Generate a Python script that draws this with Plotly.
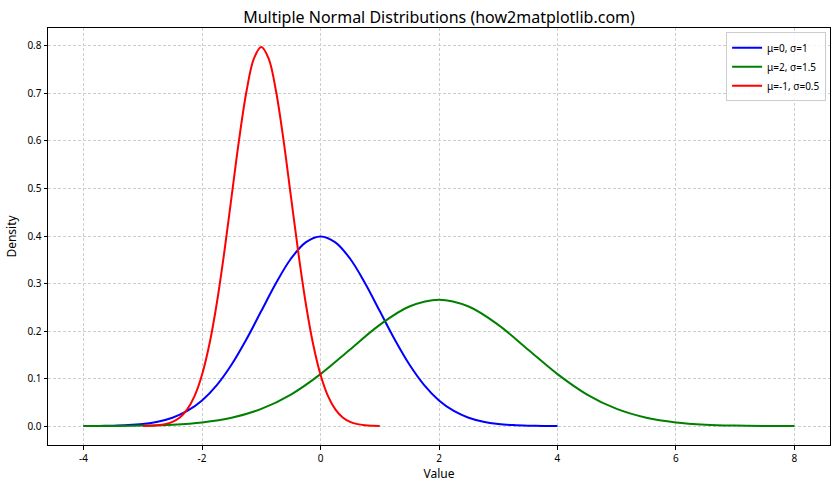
import plotly.graph_objects as go

x_blue = [-4 + 0.25 * i for i in range(33)]
y_blue_half = [0.39894, 0.38667, 0.35207, 0.30114, 0.24197, 0.18265, 0.12952, 0.08628,
               0.05399, 0.03174, 0.01753, 0.00909, 0.00443, 0.00203, 0.00087, 0.00035, 0.00013]
y_blue = y_blue_half[::-1] + y_blue_half[1:]

x_green = [-4 + 0.5 * i for i in range(25)]
y_green_half = [0.26596, 0.25159, 0.21297, 0.16131, 0.10934, 0.06632, 0.03599, 0.01748,
                0.00760, 0.002955, 0.001028, 0.00032, 0.0000892]
y_green = y_green_half[::-1] + y_green_half[1:]

x_red = [-3 + 0.125 * i for i in range(33)]
y_red_half = [0.79788, 0.77334, 0.70413, 0.60228, 0.48394, 0.36530, 0.25904, 0.17256,
              0.10798, 0.06348, 0.03506, 0.01818, 0.00886, 0.00406, 0.00174, 0.00070, 0.00027]
y_red = y_red_half[::-1] + y_red_half[1:]

series = [
    ("μ=0, σ=1", x_blue, y_blue, "blue"),
    ("μ=2, σ=1.5", x_green, y_green, "green"),
    ("μ=-1, σ=0.5", x_red, y_red, "red"),
]

x_ticks = [-4, -2, 0, 2, 4, 6, 8]
y_ticks = [0.0, 0.1, 0.2, 0.3, 0.4, 0.5, 0.6, 0.7, 0.8]

fig = go.Figure()
for name, xs, ys, color in series:
    fig.add_trace(go.Scatter(x=xs, y=ys, mode="lines", name=name,
                             line=dict(color=color, width=2, shape="spline", smoothing=1.0)))

font_family = "Noto Sans, Open Sans, sans-serif"
axis_common = dict(
    showline=True, linecolor="black", linewidth=1, mirror=True,
    ticks="outside", ticklen=3.5, tickwidth=1, tickcolor="black",
    showgrid=True, gridcolor="#cdcdcd", griddash="3px,2px", gridwidth=0.8,
    zeroline=False, tickfont=dict(size=10, color="black", family=font_family),
)

fig.update_layout(
    width=840, height=490,
    margin=dict(l=48, r=10, t=28, b=45),
    paper_bgcolor="white", plot_bgcolor="white",
    font=dict(family=font_family, color="black"),
    title=dict(text="Multiple Normal Distributions (how2matplotlib.com)",
               x=0.5, xref="paper", y=0.965, yref="container", yanchor="middle",
               font=dict(size=16, color="black")),
    xaxis=dict(range=[-4.6, 8.6], tickvals=x_ticks, ticktext=[str(v) for v in x_ticks],
               title=dict(text="Value", font=dict(size=12), standoff=6), **axis_common),
    yaxis=dict(range=[-0.0399, 0.8378], tickvals=y_ticks, ticktext=[f"{v:.1f}" for v in y_ticks],
               title=dict(text="Density", font=dict(size=12), standoff=8), **axis_common),
    legend=dict(x=0.995, y=0.99, xanchor="right", yanchor="top",
                bgcolor="rgba(255,255,255,0.8)", bordercolor="#cccccc", borderwidth=1,
                font=dict(size=10, color="black"), tracegroupgap=0, itemwidth=30),
    showlegend=True,
)

fig.write_html("out.html")
